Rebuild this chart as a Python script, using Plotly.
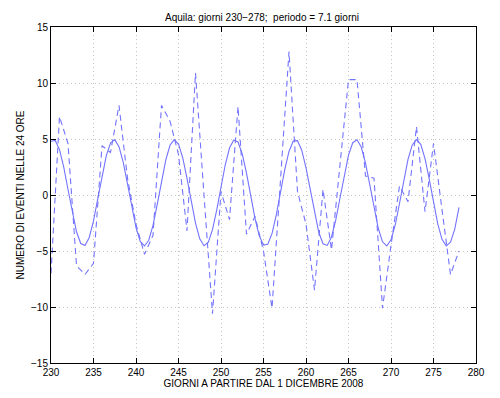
import plotly.graph_objects as go

# Fitted sinusoid (period 7.1 days), every half day
fit_days = [230 + 0.5 * i for i in range(97)]
fit_values = [
    4.80, 4.87, 4.05, 2.49, 0.49, -1.56, -3.28, -4.33, -4.51, -3.79,
    -2.31, -0.34, 1.72, 3.50, 4.64, 4.94, 4.32, 2.92, 0.99, -1.08,
    -2.91, -4.15, -4.55, -4.04, -2.72, -0.84, 1.24, 3.12, 4.44, 4.95,
    4.55, 3.31, 1.49, -0.59, -2.51, -3.92, -4.53, -4.24, -3.10, -1.33,
    0.74, 2.70, 4.19, 4.91, 4.73, 3.68, 1.96, -0.09, -2.09, -3.65,
    -4.47, -4.40, -3.45, -1.79, 0.24, 2.26, 3.89, 4.81, 4.85, 4.00,
    2.42, 0.41, -1.63, -3.33, -4.35, -4.50, -3.75, -2.24, -0.27, 1.80,
    3.56, 4.67, 4.93, 4.28, 2.85, 0.92, -1.16, -2.97, -4.18, -4.55,
    -4.00, -2.66, -0.76, 1.32, 3.18, 4.47, 4.95, 4.52, 3.25, 1.41,
    -0.67, -2.58, -3.96, -4.54, -4.21, -3.04, -1.10,
]

# Daily event counts (dashed line)
data_days = list(range(230, 279))
data_values = [
    -7.0, 7.0, 4.6, -6.3, -7.1, -6.1, 4.4, 3.8, 8.0, 1.5,
    -2.6, -5.3, -3.6, 8.0, 6.6, 3.6, -3.2, 10.9, 0.0, -10.6,
    0.3, -2.2, 7.9, -3.5, -1.9, -5.0, -10.1, 1.2, 12.8, 0.3,
    -2.6, -8.5, 0.5, -4.9, 2.8, 10.3, 10.3, 1.7, 1.5, -10.1,
    -4.5, 0.8, -0.6, 6.1, -1.5, 4.6, -1.3, -7.1, -5.0,
]

x_ticks = [230, 235, 240, 245, 250, 255, 260, 265, 270, 275, 280]
y_ticks = [-15, -10, -5, 0, 5, 10, 15]

line_color = "rgb(115,115,255)"

fig = go.Figure()
fig.add_trace(go.Scatter(
    x=fit_days, y=fit_values, mode="lines",
    line=dict(color=line_color, width=1.1),
    showlegend=False, hoverinfo="skip",
))
fig.add_trace(go.Scatter(
    x=data_days, y=data_values, mode="lines",
    line=dict(color=line_color, width=1.1, dash="6px,4px"),
    showlegend=False, hoverinfo="skip",
))

axis_common = dict(
    showline=True, linecolor="black", linewidth=1, mirror="allticks",
    ticks="inside", ticklen=5, tickcolor="black", tickwidth=1,
    showgrid=True, gridcolor="#c4c4c4", gridwidth=1, griddash="1px,3px",
    zeroline=False,
    tickfont=dict(family="Liberation Sans, Arial, sans-serif", size=10, color="black"),
)

fig.update_layout(
    width=500, height=398,
    paper_bgcolor="white", plot_bgcolor="white",
    margin=dict(l=41, r=32, t=19, b=43),
    font=dict(family="Liberation Sans, Arial, sans-serif", size=10, color="black"),
    title=dict(
        text="Aquila: giorni 230\u2212278;  periodo = 7.1 giorni",
        x=0.508, xanchor="center", y=0.977, yanchor="middle",
        font=dict(size=10, color="black"),
    ),
    xaxis=dict(
        range=[230, 280], tickvals=x_ticks, ticktext=[str(v) for v in x_ticks],
        title=dict(text="GIORNI A PARTIRE DAL 1 DICEMBRE 2008", standoff=2,
                   font=dict(size=10)),
        **axis_common,
    ),
    yaxis=dict(
        range=[-15, 15], tickvals=y_ticks,
        title=dict(text="NUMERO DI EVENTI NELLE 24 ORE", standoff=4,
                   font=dict(size=10)),
        **axis_common,
    ),
)

fig.write_html("out.html")
